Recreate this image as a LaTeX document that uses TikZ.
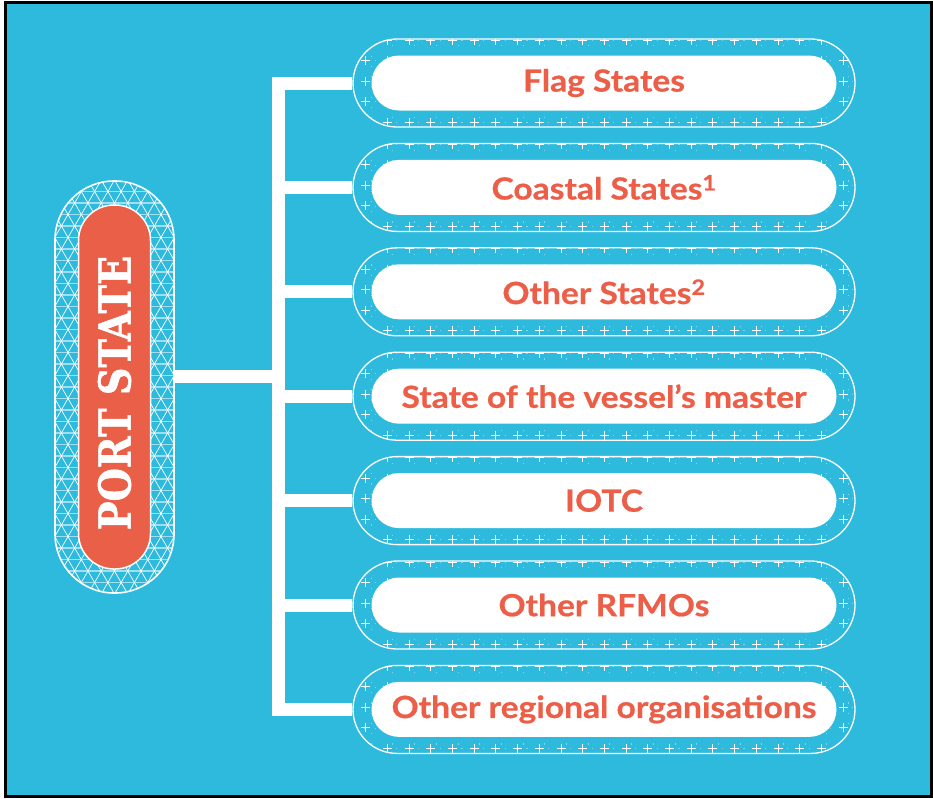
\documentclass[tikz,border=0pt]{standalone}
\usepackage{fontspec}
\setmainfont{Lato}
\newfontfamily\pillfont{Lato}[FakeStretch=1.1,FakeBold=0.6]
\newfontfamily\slabfont{DejaVu Serif}[FakeStretch=0.87,FakeBold=1.2]
\usetikzlibrary{shapes.misc,positioning}

\definecolor{seablue}{RGB}{46,186,221}
\definecolor{portred}{RGB}{234,95,72}
\definecolor{labelred}{RGB}{236,94,71}

\begin{document}
\begin{tikzpicture}[x=1pt,y=-1pt,
  bar/.style={white,line width=13pt},
  % outer ring of the right hand pills, with the cross grid inside
  crossring/.style={rounded rectangle,draw=white,line width=1.3pt,fill=seablue,
    minimum width=502pt,minimum height=88pt,inner sep=0pt,
    path picture={
      \foreach \gy in {-2,...,2}
        \draw[white,opacity=.4,line width=.8pt,dash pattern=on 1.2pt off 9.65pt]
          ([shift={(-262,\gy*20.5-2)}]path picture bounding box.center) -- ++(524,0);
      \foreach \gx in {0,...,24}
        \draw[white,opacity=.4,line width=.8pt,dash pattern=on 1.2pt off 9.05pt]
          ([shift={(\gx*21.7-260+5.4,-48)}]path picture bounding box.center) -- ++(0,96);
      \foreach \gx in {0,...,24}
        \foreach \gy in {-2,...,2}
          \draw[white,line width=1pt]
            ([shift={(\gx*21.7-260,\gy*20.5-2)}]path picture bounding box.center)
            ++(-4.5,0) -- ++(9,0) ++(-4.5,-4.5) -- ++(0,9);
    }},
  labelpill/.style={rounded rectangle,fill=white,minimum width=465pt,minimum height=55pt,
    inner sep=0pt,text=labelred,font=\pillfont\bfseries\fontsize{30.5}{30.5}\selectfont},
  % outer ring of the port state pill, with the triangle lattice
  latticering/.style={rectangle,rounded corners=59pt,draw=white,line width=1.6pt,fill=seablue,
    minimum width=119pt,minimum height=412pt,inner sep=0pt,
    path picture={
      \foreach \k in {-19,...,19}
        \draw[white,opacity=.55,line width=1.8pt]
          ([shift={(-80,\k*11.5)}]path picture bounding box.center) -- ++(160,0);
      \foreach \i in {-20,...,20}{
        \draw[white,line width=.7pt]
          ([shift={(\i*13.28,0)}]path picture bounding box.center) ++(60:-300) -- ++(60:600);
        \draw[white,line width=.7pt]
          ([shift={(\i*13.28,0)}]path picture bounding box.center) ++(120:-300) -- ++(120:600);
      }
    }},
  portpill/.style={rectangle,rounded corners=35.5pt,fill=portred,draw=white,line width=1.5pt,
    minimum width=364pt,minimum height=72pt,inner sep=0pt,text=white,
    font=\slabfont\bfseries\fontsize{44}{44}\selectfont}]

  \useasboundingbox (0,0) rectangle (933,798);
  \fill[white] (0,0) rectangle (933,798);
  \fill[black] (4,1) rectangle (933,798);
  \fill[seablue] (7,4) rectangle (930,795);

  \coordinate (junction) at (278.5,376);

  \node[crossring] (o1) at (604,83) {};
  \node[crossring,below=15.1pt of o1] (o2) {};
  \node[crossring,below=15.1pt of o2] (o3) {};
  \node[crossring,below=15.1pt of o3] (o4) {};
  \node[crossring,below=15.1pt of o4] (o5) {};
  \node[crossring,below=15.1pt of o5] (o6) {};
  \node[crossring,below=15.1pt of o6] (o7) {};

  \node[labelpill] (flag) at (o1) {Flag States};
  \node[labelpill] (coastal) at (o2) {Coastal States\textsuperscript{1}};
  \node[labelpill] (other) at (o3) {Other States\textsuperscript{2}};
  \node[labelpill] (master) at (o4) {State of the vessel’s master};
  \node[labelpill] (iotc) at (o5) {IOTC};
  \node[labelpill] (rfmo) at (o6) {Other RFMOs};
  \node[labelpill] (regional) at (o7) {Other regional organisations};

  \node[latticering] (ring) at (114.5,387) {};
  \node[portpill,rotate=90] (port) at (ring) {\hspace*{-12pt}PORT STATE};

  % connectors
  \draw[bar] (ring.east |- junction) -- (junction);
  \draw[bar,line cap=rect] (o1.west -| junction) -- (o7.west -| junction);
  \draw[bar] (o1.west -| junction) -- (o1.west);
  \draw[bar] (o2.west -| junction) -- (o2.west);
  \draw[bar] (o3.west -| junction) -- (o3.west);
  \draw[bar] (o4.west -| junction) -- (o4.west);
  \draw[bar] (o5.west -| junction) -- (o5.west);
  \draw[bar] (o6.west -| junction) -- (o6.west);
  \draw[bar] (o7.west -| junction) -- (o7.west);
\end{tikzpicture}
\end{document}
